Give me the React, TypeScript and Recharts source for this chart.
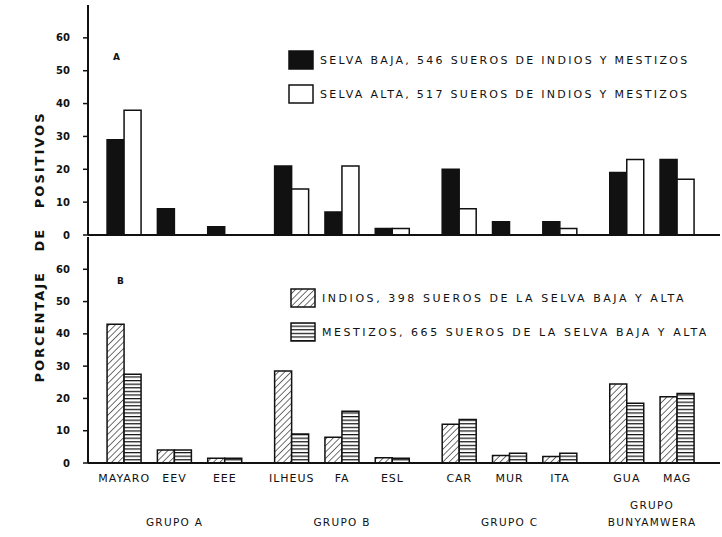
import React from 'react';
import { BarChart, Bar, XAxis, YAxis, Legend } from 'recharts';

const virusCodes = ['MAYARO', 'EEV', 'EEE', 'ILHEUS', 'FA', 'ESL', 'CAR', 'MUR', 'ITA', 'GUA', 'MAG'];
const virusGroup = [0, 0, 0, 1, 1, 1, 2, 2, 2, 3, 3];
const groupNames = ['GRUPO A', 'GRUPO B', 'GRUPO C', 'GRUPO\nBUNYAMWERA'];

// A: % positivos por zona (selva baja / selva alta)
const selvaBaja = [29, 8, 2.5, 21, 7, 2, 20, 4, 4, 19, 23];
const selvaAlta = [38, null, null, 14, 21, 2, 8, null, 2, 23, 17];
// B: % positivos por poblacion (indios / mestizos)
const indios = [43, 4, 1.5, 28.5, 8, 1.6, 12, 2.3, 2, 24.5, 20.5];
const mestizos = [27.5, 4, 1.5, 9, 16, 1.5, 13.5, 3, 3, 18.5, 21.5];

const yTicks = [0, 10, 20, 30, 40, 50, 60];

const GROUP_GAP = 0.33;
const FONT = '"DejaVu Sans", sans-serif';
const INK = '#111';

// groups get a bit of extra space between them
const xPos = virusCodes.map((_, i) => i + virusGroup[i] * GROUP_GAP);
const xDomain = [xPos[0] - 0.72, xPos[xPos.length - 1] + 0.85];
const groupCenters = groupNames.map((_, g) => {
    const ps = xPos.filter((_, i) => virusGroup[i] === g);
    return ps.reduce((a, b) => a + b, 0) / ps.length;
});

const dataA = virusCodes.map((code, i) => ({ code, pos: xPos[i], baja: selvaBaja[i], alta: selvaAlta[i] }));
const dataB = virusCodes.map((code, i) => ({ code, pos: xPos[i], indios: indios[i], mestizos: mestizos[i] }));

function LegendBox({ payload, spacing }: any) {
    return (
        <div style={{ fontFamily: FONT, fontSize: 11, letterSpacing: spacing, color: INK }}>
            {(payload || []).map((entry: any) => (
                <div key={entry.value} style={{ display: 'flex', alignItems: 'center', height: 34 }}>
                    <svg width={26} height={20}>
                        <rect x={1} y={1} width={24} height={18} fill={entry.color} stroke={INK} strokeWidth={1.5} />
                    </svg>
                    <span style={{ marginLeft: 6, whiteSpace: 'nowrap' }}>{entry.value}</span>
                </div>
            ))}
        </div>
    );
}

function GroupTick({ x, y, index }: any) {
    const lines = groupNames[index].split('\n');
    return (
        <text x={x} y={y} textAnchor="middle" fontFamily={FONT} fontSize={10.5} letterSpacing={1.3} fill={INK}>
            {lines.map((l, k) => (
                <tspan key={k} x={x} y={y + 39 - (lines.length - 1 - k) * 17}>{l}</tspan>
            ))}
        </text>
    );
}

const keepOrder = () => 0;

const yAxisProps = {
    domain: [0, 70] as [number, number],
    ticks: yTicks,
    width: 88,
    tickSize: 5,
    tickMargin: 13,
    axisLine: { stroke: INK, strokeWidth: 2 },
    tickLine: { stroke: INK, strokeWidth: 1.5 },
    tick: { fontSize: 10, fontWeight: 'bold', fill: INK, fontFamily: FONT },
    interval: 0 as const,
};

export default function App() {
    return (
        <div style={{ position: 'absolute', left: 0, top: 0, width: 722, height: 537, background: '#fff' }}>
            <div style={{ position: 'absolute', left: 0, top: 0 }}>
                <BarChart width={722} height={242} data={dataA} barSize={17} barGap={0}
                    margin={{ top: 5, right: 2, left: 0, bottom: 6 }}>
                    <XAxis dataKey="pos" type="number" domain={xDomain} ticks={xPos} tick={false}
                        tickLine={false} height={1} axisLine={{ stroke: INK, strokeWidth: 2 }} />
                    <YAxis {...yAxisProps} />
                    <Legend layout="vertical" align="center" verticalAlign="middle"
                        content={<LegendBox spacing={2.3} />} itemSorter={keepOrder}
                        wrapperStyle={{ left: 288, top: 43, width: 440, height: 70 }} />
                    <Bar dataKey="baja" name="SELVA BAJA, 546 SUEROS DE INDIOS Y MESTIZOS" fill={INK}
                        stroke={INK} strokeWidth={1.5} isAnimationActive={false} />
                    <Bar dataKey="alta" name="SELVA ALTA, 517 SUEROS DE INDIOS Y MESTIZOS" fill="#fff"
                        stroke={INK} strokeWidth={1.5} isAnimationActive={false} />
                </BarChart>
            </div>
            <div style={{ position: 'absolute', left: 0, top: 236 }}>
                <BarChart width={722} height={301} data={dataB} barSize={17} barGap={0}
                    margin={{ top: 1, right: 2, left: 0, bottom: 0 }}>
                    <defs>
                        <pattern id="hatchDiag" patternUnits="userSpaceOnUse" width={4.5} height={4.5}
                            patternTransform="rotate(45)">
                            <rect width={4.5} height={4.5} fill="#fff" />
                            <line x1={0} y1={0} x2={0} y2={4.5} stroke={INK} strokeWidth={1.2} />
                        </pattern>
                        <pattern id="hatchHoriz" patternUnits="userSpaceOnUse" width={6} height={3.6}>
                            <rect width={6} height={3.6} fill="#fff" />
                            <line x1={0} y1={0.6} x2={6} y2={0.6} stroke={INK} strokeWidth={1.2} />
                        </pattern>
                    </defs>
                    <XAxis dataKey="pos" type="number" domain={xDomain} ticks={xPos} interval={0}
                        tickFormatter={(_v: number, i: number) => virusCodes[i]}
                        tickLine={false} tickSize={6} tickMargin={5} height={24}
                        axisLine={{ stroke: INK, strokeWidth: 2 }}
                        tick={{ fontSize: 11, fill: INK, fontFamily: FONT, letterSpacing: 1 }} />
                    <XAxis xAxisId="grp" dataKey="pos" type="number" domain={xDomain} ticks={groupCenters}
                        interval={0} axisLine={false} tickLine={false} tickSize={0} tickMargin={0}
                        height={50} tick={<GroupTick />} />
                    <YAxis {...yAxisProps} />
                    <Legend layout="vertical" align="center" verticalAlign="middle"
                        content={<LegendBox spacing={2.55} />} itemSorter={keepOrder}
                        wrapperStyle={{ left: 290, top: 45, width: 440, height: 72 }} />
                    <Bar dataKey="indios" name="INDIOS, 398 SUEROS DE LA SELVA BAJA Y ALTA" fill="url(#hatchDiag)"
                        stroke={INK} strokeWidth={1.5} isAnimationActive={false} />
                    <Bar dataKey="mestizos" name="MESTIZOS, 665 SUEROS DE LA SELVA BAJA Y ALTA" fill="url(#hatchHoriz)"
                        stroke={INK} strokeWidth={1.5} isAnimationActive={false} />
                </BarChart>
            </div>
            <svg width={722} height={537} style={{ position: 'absolute', left: 0, top: 0, pointerEvents: 'none' }}>
                <text transform="translate(44,247) rotate(-90)" textAnchor="middle" fontFamily={FONT}
                    fontSize={13} fontWeight="bold" letterSpacing={2} fill={INK} style={{ whiteSpace: 'pre' }}>
                    {'PORCENTAJE   DE   POSITIVOS'}
                </text>
                <text x={113} y={60} fontFamily={FONT} fontSize={9} fontWeight="bold" fill={INK}>A</text>
                <text x={117} y={284} fontFamily={FONT} fontSize={9} fontWeight="bold" fill={INK}>B</text>
            </svg>
        </div>
    );
}
